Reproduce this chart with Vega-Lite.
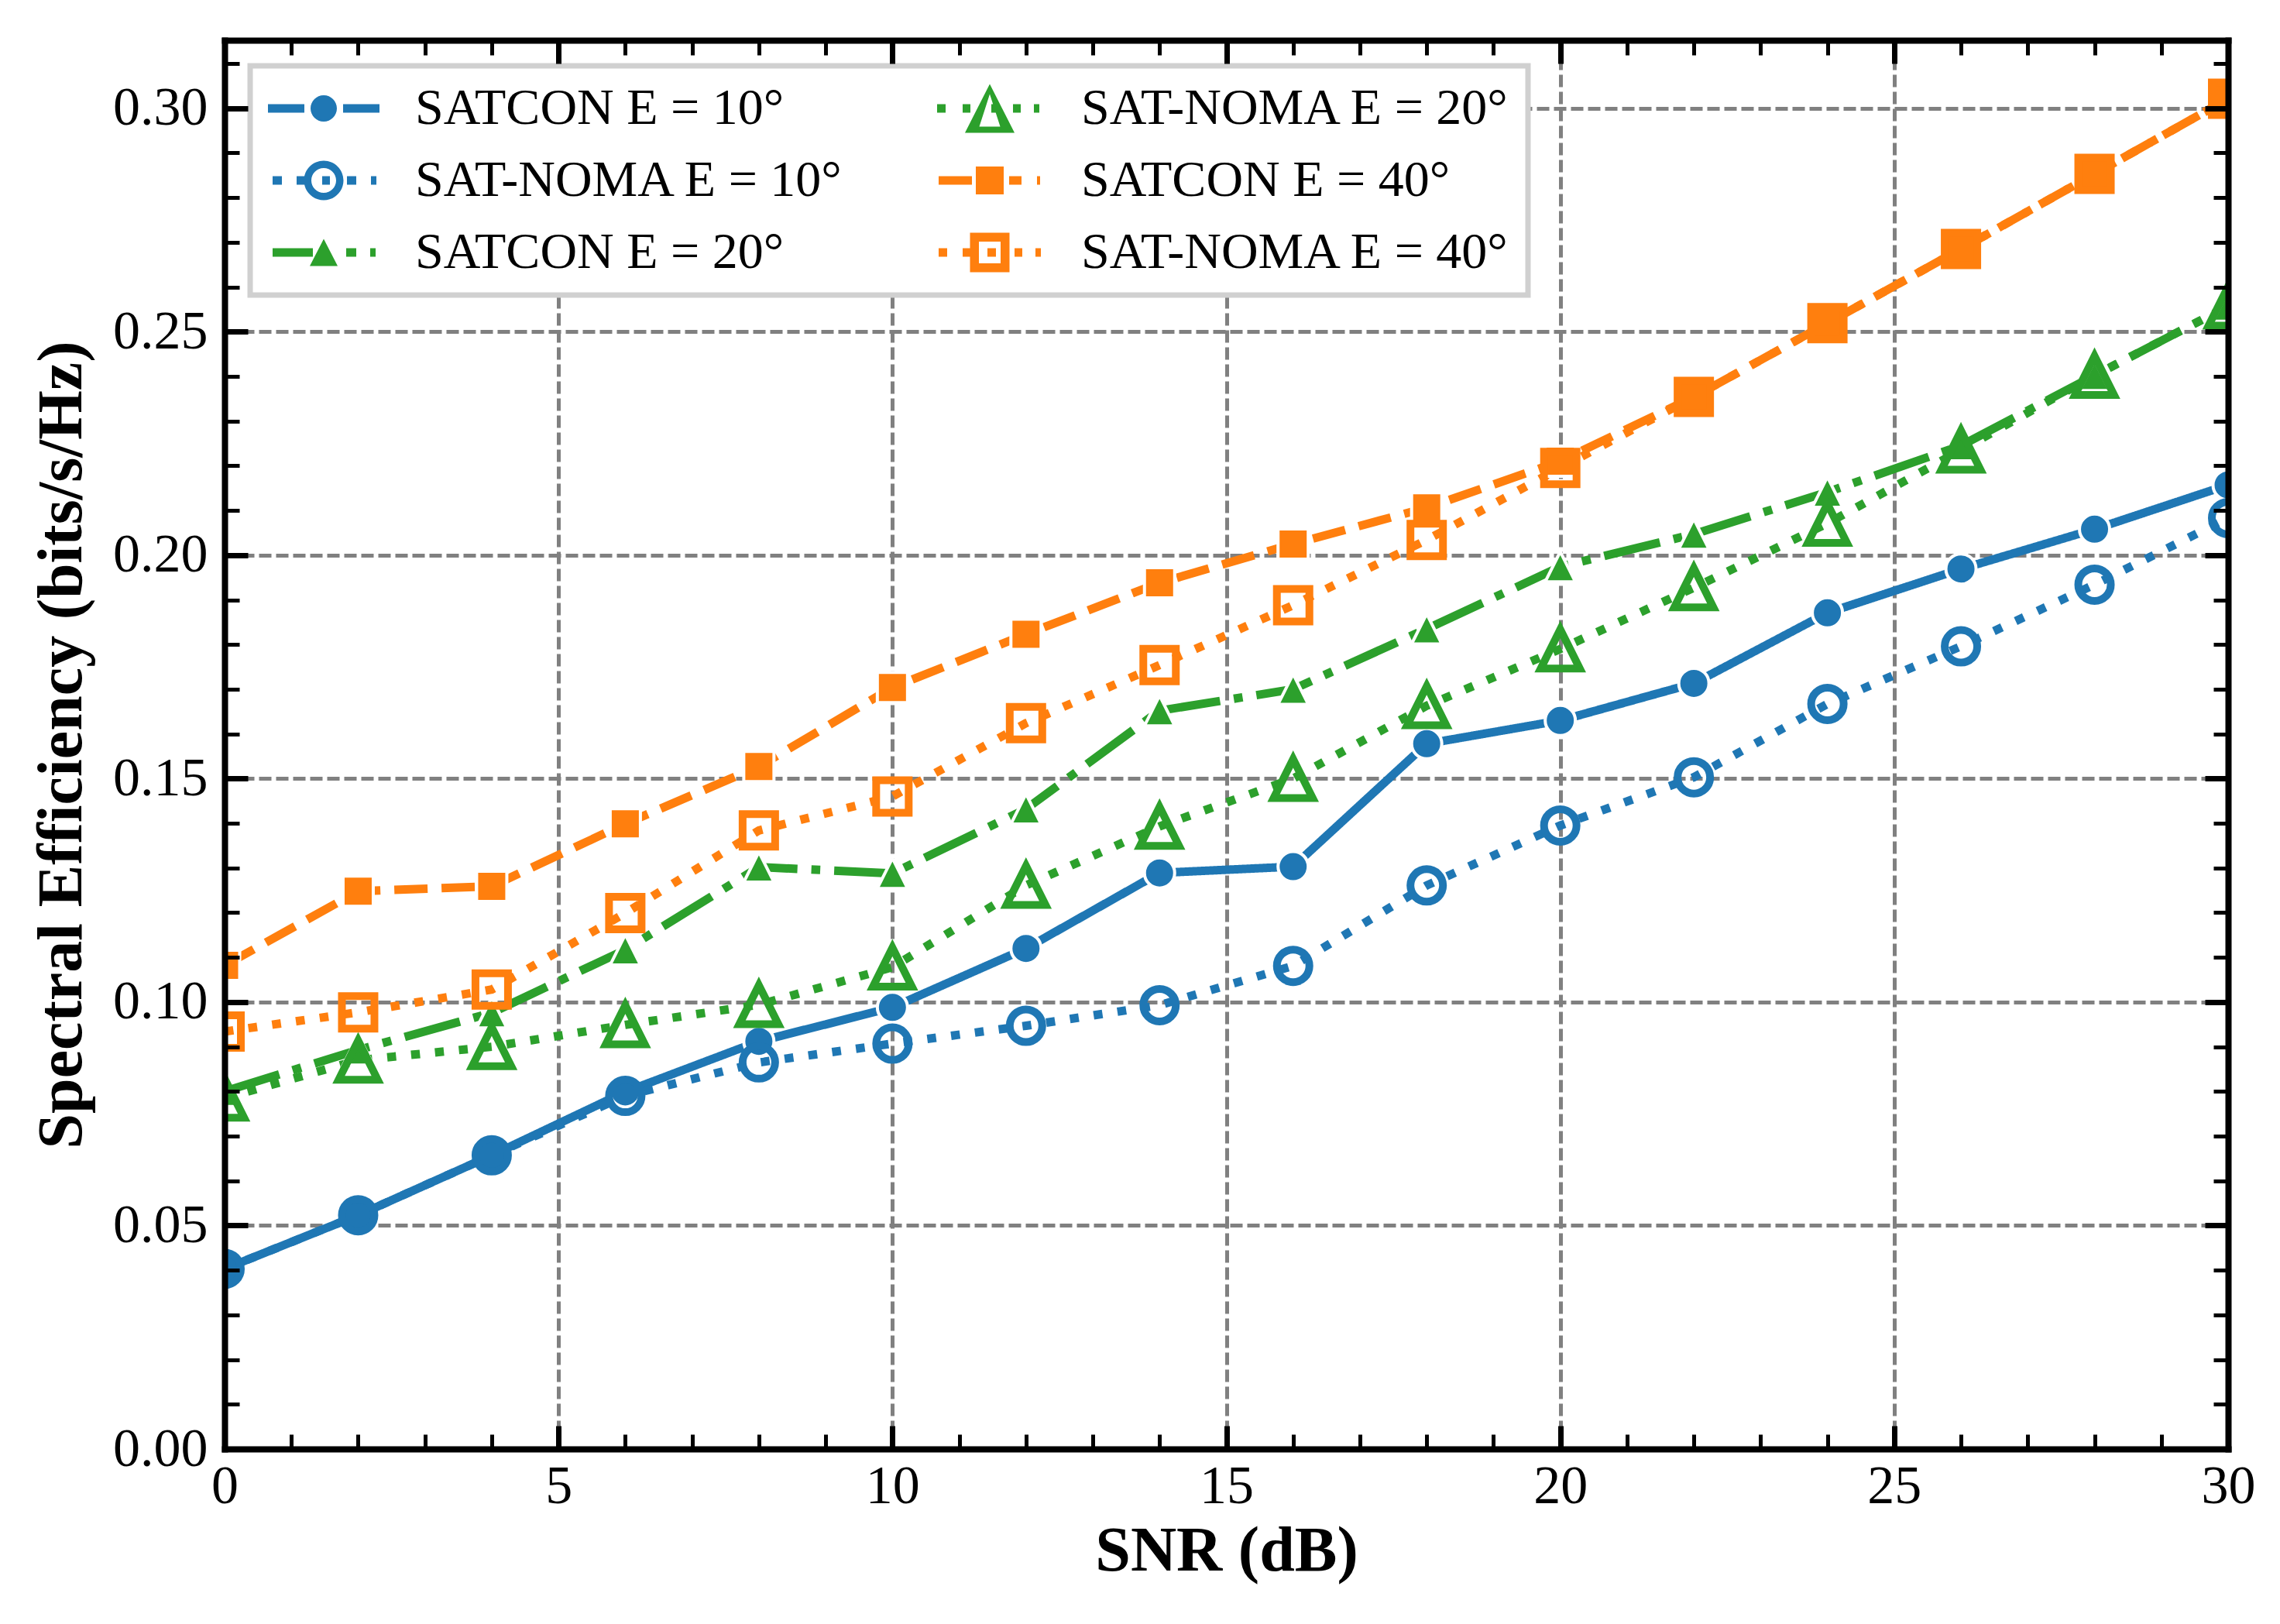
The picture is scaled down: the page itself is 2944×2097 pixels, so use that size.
{
  "$schema": "https://vega.github.io/schema/vega-lite/v6.json",
  "width": 2587,
  "height": 1819,
  "autosize": {"type": "none"},
  "padding": {"left": 290, "top": 52, "right": 67, "bottom": 226},
  "background": "white",
  "config": {"view": {"stroke": null}},
  "data": {"values": [
    {"snr": 0, "se": 0.0403, "series": "SATCON E = 10°"},
    {"snr": 2, "se": 0.0523, "series": "SATCON E = 10°"},
    {"snr": 4, "se": 0.0657, "series": "SATCON E = 10°"},
    {"snr": 6, "se": 0.0799, "series": "SATCON E = 10°"},
    {"snr": 8, "se": 0.0912, "series": "SATCON E = 10°"},
    {"snr": 10, "se": 0.0988, "series": "SATCON E = 10°"},
    {"snr": 12, "se": 0.1120, "series": "SATCON E = 10°"},
    {"snr": 14, "se": 0.1289, "series": "SATCON E = 10°"},
    {"snr": 16, "se": 0.1303, "series": "SATCON E = 10°"},
    {"snr": 18, "se": 0.1578, "series": "SATCON E = 10°"},
    {"snr": 20, "se": 0.1630, "series": "SATCON E = 10°"},
    {"snr": 22, "se": 0.1713, "series": "SATCON E = 10°"},
    {"snr": 24, "se": 0.1871, "series": "SATCON E = 10°"},
    {"snr": 26, "se": 0.1969, "series": "SATCON E = 10°"},
    {"snr": 28, "se": 0.2058, "series": "SATCON E = 10°"},
    {"snr": 30, "se": 0.2157, "series": "SATCON E = 10°"},
    {"snr": 0, "se": 0.0403, "series": "SAT-NOMA E = 10°"},
    {"snr": 2, "se": 0.0523, "series": "SAT-NOMA E = 10°"},
    {"snr": 4, "se": 0.0657, "series": "SAT-NOMA E = 10°"},
    {"snr": 6, "se": 0.0790, "series": "SAT-NOMA E = 10°"},
    {"snr": 8, "se": 0.0865, "series": "SAT-NOMA E = 10°"},
    {"snr": 10, "se": 0.0907, "series": "SAT-NOMA E = 10°"},
    {"snr": 12, "se": 0.0947, "series": "SAT-NOMA E = 10°"},
    {"snr": 14, "se": 0.0993, "series": "SAT-NOMA E = 10°"},
    {"snr": 16, "se": 0.1081, "series": "SAT-NOMA E = 10°"},
    {"snr": 18, "se": 0.1261, "series": "SAT-NOMA E = 10°"},
    {"snr": 20, "se": 0.1395, "series": "SAT-NOMA E = 10°"},
    {"snr": 22, "se": 0.1503, "series": "SAT-NOMA E = 10°"},
    {"snr": 24, "se": 0.1667, "series": "SAT-NOMA E = 10°"},
    {"snr": 26, "se": 0.1796, "series": "SAT-NOMA E = 10°"},
    {"snr": 28, "se": 0.1934, "series": "SAT-NOMA E = 10°"},
    {"snr": 30, "se": 0.2083, "series": "SAT-NOMA E = 10°"},
    {"snr": 0, "se": 0.0800, "series": "SATCON E = 20°"},
    {"snr": 2, "se": 0.0893, "series": "SATCON E = 20°"},
    {"snr": 4, "se": 0.0976, "series": "SATCON E = 20°"},
    {"snr": 6, "se": 0.1117, "series": "SATCON E = 20°"},
    {"snr": 8, "se": 0.1302, "series": "SATCON E = 20°"},
    {"snr": 10, "se": 0.1288, "series": "SATCON E = 20°"},
    {"snr": 12, "se": 0.1432, "series": "SATCON E = 20°"},
    {"snr": 14, "se": 0.1652, "series": "SATCON E = 20°"},
    {"snr": 16, "se": 0.1700, "series": "SATCON E = 20°"},
    {"snr": 18, "se": 0.1835, "series": "SATCON E = 20°"},
    {"snr": 20, "se": 0.1974, "series": "SATCON E = 20°"},
    {"snr": 22, "se": 0.2047, "series": "SATCON E = 20°"},
    {"snr": 24, "se": 0.2141, "series": "SATCON E = 20°"},
    {"snr": 26, "se": 0.2245, "series": "SATCON E = 20°"},
    {"snr": 28, "se": 0.2402, "series": "SATCON E = 20°"},
    {"snr": 30, "se": 0.2557, "series": "SATCON E = 20°"},
    {"snr": 0, "se": 0.0785, "series": "SAT-NOMA E = 20°"},
    {"snr": 2, "se": 0.0870, "series": "SAT-NOMA E = 20°"},
    {"snr": 4, "se": 0.0900, "series": "SAT-NOMA E = 20°"},
    {"snr": 6, "se": 0.0949, "series": "SAT-NOMA E = 20°"},
    {"snr": 8, "se": 0.0994, "series": "SAT-NOMA E = 20°"},
    {"snr": 10, "se": 0.1078, "series": "SAT-NOMA E = 20°"},
    {"snr": 12, "se": 0.1261, "series": "SAT-NOMA E = 20°"},
    {"snr": 14, "se": 0.1393, "series": "SAT-NOMA E = 20°"},
    {"snr": 16, "se": 0.1500, "series": "SAT-NOMA E = 20°"},
    {"snr": 18, "se": 0.1663, "series": "SAT-NOMA E = 20°"},
    {"snr": 20, "se": 0.1790, "series": "SAT-NOMA E = 20°"},
    {"snr": 22, "se": 0.1927, "series": "SAT-NOMA E = 20°"},
    {"snr": 24, "se": 0.2071, "series": "SAT-NOMA E = 20°"},
    {"snr": 26, "se": 0.2235, "series": "SAT-NOMA E = 20°"},
    {"snr": 28, "se": 0.2402, "series": "SAT-NOMA E = 20°"},
    {"snr": 30, "se": 0.2557, "series": "SAT-NOMA E = 20°"},
    {"snr": 0, "se": 0.1082, "series": "SATCON E = 40°"},
    {"snr": 2, "se": 0.1248, "series": "SATCON E = 40°"},
    {"snr": 4, "se": 0.1259, "series": "SATCON E = 40°"},
    {"snr": 6, "se": 0.1399, "series": "SATCON E = 40°"},
    {"snr": 8, "se": 0.1527, "series": "SATCON E = 40°"},
    {"snr": 10, "se": 0.1704, "series": "SATCON E = 40°"},
    {"snr": 12, "se": 0.1823, "series": "SATCON E = 40°"},
    {"snr": 14, "se": 0.1938, "series": "SATCON E = 40°"},
    {"snr": 16, "se": 0.2025, "series": "SATCON E = 40°"},
    {"snr": 18, "se": 0.2106, "series": "SATCON E = 40°"},
    {"snr": 20, "se": 0.2210, "series": "SATCON E = 40°"},
    {"snr": 22, "se": 0.2354, "series": "SATCON E = 40°"},
    {"snr": 24, "se": 0.2519, "series": "SATCON E = 40°"},
    {"snr": 26, "se": 0.2685, "series": "SATCON E = 40°"},
    {"snr": 28, "se": 0.2853, "series": "SATCON E = 40°"},
    {"snr": 30, "se": 0.3021, "series": "SATCON E = 40°"},
    {"snr": 0, "se": 0.0934, "series": "SAT-NOMA E = 40°"},
    {"snr": 2, "se": 0.0977, "series": "SAT-NOMA E = 40°"},
    {"snr": 4, "se": 0.1028, "series": "SAT-NOMA E = 40°"},
    {"snr": 6, "se": 0.1199, "series": "SAT-NOMA E = 40°"},
    {"snr": 8, "se": 0.1384, "series": "SAT-NOMA E = 40°"},
    {"snr": 10, "se": 0.1460, "series": "SAT-NOMA E = 40°"},
    {"snr": 12, "se": 0.1624, "series": "SAT-NOMA E = 40°"},
    {"snr": 14, "se": 0.1754, "series": "SAT-NOMA E = 40°"},
    {"snr": 16, "se": 0.1888, "series": "SAT-NOMA E = 40°"},
    {"snr": 18, "se": 0.2034, "series": "SAT-NOMA E = 40°"},
    {"snr": 20, "se": 0.2195, "series": "SAT-NOMA E = 40°"},
    {"snr": 22, "se": 0.2354, "series": "SAT-NOMA E = 40°"},
    {"snr": 24, "se": 0.2519, "series": "SAT-NOMA E = 40°"},
    {"snr": 26, "se": 0.2685, "series": "SAT-NOMA E = 40°"},
    {"snr": 28, "se": 0.2853, "series": "SAT-NOMA E = 40°"},
    {"snr": 30, "se": 0.3021, "series": "SAT-NOMA E = 40°"}
  ]},
  "layer": [
    {
      "mark": {"type": "line", "strokeWidth": 11, "clip": true, "strokeCap": "butt"},
      "encoding": {
        "x": {"field": "snr", "type": "quantitative", "scale": {"domain": [0, 30], "nice": false, "zero": false},
          "axis": {"orient": "bottom", "values": [0, 5, 10, 15, 20, 25, 30], "grid": true, "gridColor": "#808080", "gridDash": [16, 6], "gridWidth": 5, "gridOpacity": 1, "domain": false, "ticks": false, "labels": false, "title": null, "zindex": 0}},
        "y": {"field": "se", "type": "quantitative", "scale": {"domain": [0, 0.3152], "nice": false, "zero": false},
          "axis": {"orient": "left", "values": [0, 0.05, 0.1, 0.15, 0.2, 0.25, 0.3], "grid": true, "gridColor": "#808080", "gridDash": [16, 6], "gridWidth": 5, "gridOpacity": 1, "domain": false, "ticks": false, "labels": false, "title": null, "zindex": 0}},
        "color": {"field": "series", "type": "nominal", "legend": null,
          "scale": {"domain": ["SATCON E = 10°", "SAT-NOMA E = 10°", "SATCON E = 20°", "SAT-NOMA E = 20°", "SATCON E = 40°", "SAT-NOMA E = 40°"],
                    "range": ["#1f77b4", "#1f77b4", "#2ca02c", "#2ca02c", "#ff7f0e", "#ff7f0e"]}},
        "strokeDash": {"field": "series", "type": "nominal", "legend": null,
          "scale": {"domain": ["SATCON E = 10°", "SAT-NOMA E = 10°", "SATCON E = 20°", "SAT-NOMA E = 20°", "SATCON E = 40°", "SAT-NOMA E = 40°"],
                    "range": [[1, 0], [11.5, 19.5], [74, 18, 11.5, 18], [11.5, 19.5], [43, 18], [11.5, 19.5]]}}
      }
    },
    {
      "transform": [{"filter": {"field": "series", "oneOf": ["SATCON E = 10°", "SATCON E = 20°", "SATCON E = 40°"]}}],
      "mark": {"type": "point", "filled": true, "size": 1521, "stroke": "white", "strokeWidth": 4, "opacity": 1, "clip": true},
      "encoding": {
        "x": {"field": "snr", "type": "quantitative", "scale": {"domain": [0, 30], "nice": false, "zero": false},
          "axis": {"orient": "bottom", "values": [0, 5, 10, 15, 20, 25, 30], "grid": false, "domain": true, "domainColor": "black", "domainWidth": 8, "domainCap": "square",
                   "ticks": true, "tickColor": "black", "tickSize": -30, "tickWidth": 7, "labels": true, "labelFont": "Liberation Serif", "labelFontSize": 70, "labelColor": "black",
                   "labelPadding": 44, "labelFlush": false, "labelOverlap": false, "title": "SNR (dB)", "titleFont": "Liberation Serif", "titleFontSize": 82, "titleFontWeight": "bold", "titleColor": "black", "titlePadding": 8, "zindex": 1}},
        "y": {"field": "se", "type": "quantitative", "scale": {"domain": [0, 0.3152], "nice": false, "zero": false},
          "axis": {"orient": "left", "values": [0, 0.05, 0.1, 0.15, 0.2, 0.25, 0.3], "format": ".2f", "grid": false, "domain": true, "domainColor": "black", "domainWidth": 8, "domainCap": "square",
                   "ticks": true, "tickColor": "black", "tickSize": -30, "tickWidth": 7, "labels": true, "labelFont": "Liberation Serif", "labelFontSize": 70, "labelColor": "black",
                   "labelPadding": 52, "labelFlush": false, "labelOverlap": false, "title": "Spectral Efficiency (bits/s/Hz)", "titleFont": "Liberation Serif", "titleFontSize": 82, "titleFontWeight": "bold", "titleColor": "black", "titlePadding": 24, "zindex": 1}},
        "fill": {"field": "series", "type": "nominal", "legend": null,
          "scale": {"domain": ["SATCON E = 10°", "SATCON E = 20°", "SATCON E = 40°"], "range": ["#1f77b4", "#2ca02c", "#ff7f0e"]}},
        "shape": {"field": "series", "type": "nominal", "legend": null,
          "scale": {"domain": ["SATCON E = 10°", "SATCON E = 20°", "SATCON E = 40°"], "range": ["circle", "M0,-1L1,1L-1,1Z", "square"]}}
      }
    },
    {
      "transform": [{"filter": {"field": "series", "oneOf": ["SAT-NOMA E = 10°", "SAT-NOMA E = 20°", "SAT-NOMA E = 40°"]}}],
      "mark": {"type": "point", "filled": false, "size": 1764, "strokeWidth": 10, "opacity": 1, "clip": true},
      "encoding": {
        "x": {"field": "snr", "type": "quantitative", "scale": {"domain": [0, 30], "nice": false, "zero": false},
          "axis": {"orient": "bottom", "values": [1, 2, 3, 4, 6, 7, 8, 9, 11, 12, 13, 14, 16, 17, 18, 19, 21, 22, 23, 24, 26, 27, 28, 29], "grid": false, "domain": false,
                   "ticks": true, "tickColor": "black", "tickSize": -19, "tickWidth": 5, "labels": false, "title": null, "zindex": 1}},
        "y": {"field": "se", "type": "quantitative", "scale": {"domain": [0, 0.3152], "nice": false, "zero": false},
          "axis": {"orient": "left", "values": [0.01, 0.02, 0.03, 0.04, 0.06, 0.07, 0.08, 0.09, 0.11, 0.12, 0.13, 0.14, 0.16, 0.17, 0.18, 0.19, 0.21, 0.22, 0.23, 0.24, 0.26, 0.27, 0.28, 0.29, 0.31], "grid": false, "domain": false,
                   "ticks": true, "tickColor": "black", "tickSize": -19, "tickWidth": 5, "labels": false, "title": null, "zindex": 1}},
        "stroke": {"field": "series", "type": "nominal", "legend": null,
          "scale": {"domain": ["SAT-NOMA E = 10°", "SAT-NOMA E = 20°", "SAT-NOMA E = 40°"], "range": ["#1f77b4", "#2ca02c", "#ff7f0e"]}},
        "shape": {"field": "series", "type": "nominal", "legend": null,
          "scale": {"domain": ["SAT-NOMA E = 10°", "SAT-NOMA E = 20°", "SAT-NOMA E = 40°"], "range": ["circle", "M0,-1.2L1.2,1.2L-1.2,1.2Z", "square"]}}
      }
    },
    {
      "mark": {"type": "point", "filled": true, "opacity": 0, "size": 1296, "strokeWidth": 0},
      "encoding": {
        "x": {"field": "snr", "type": "quantitative", "scale": {"domain": [0, 30], "nice": false, "zero": false},
          "axis": {"orient": "top", "values": [0, 5, 10, 15, 20, 25, 30], "grid": false, "domain": true, "domainColor": "black", "domainWidth": 8, "domainCap": "square",
                   "ticks": true, "tickColor": "black", "tickSize": -30, "tickWidth": 7, "labels": false, "title": null, "zindex": 1}},
        "y": {"field": "se", "type": "quantitative", "scale": {"domain": [0, 0.3152], "nice": false, "zero": false},
          "axis": {"orient": "right", "values": [0, 0.05, 0.1, 0.15, 0.2, 0.25, 0.3], "grid": false, "domain": true, "domainColor": "black", "domainWidth": 8, "domainCap": "square",
                   "ticks": true, "tickColor": "black", "tickSize": -30, "tickWidth": 7, "labels": false, "title": null, "zindex": 1}},
        "color": {"field": "series", "type": "nominal",
          "scale": {"domain": ["SATCON E = 10°", "SAT-NOMA E = 10°", "SATCON E = 20°", "SAT-NOMA E = 20°", "SATCON E = 40°", "SAT-NOMA E = 40°"],
                    "range": ["#1f77b4", "#1f77b4", "#2ca02c", "#2ca02c", "#ff7f0e", "#ff7f0e"]},
          "legend": {"title": null, "orient": "top-left", "offset": 33, "columns": 2, "columnPadding": 114, "rowPadding": 27, "padding": 22,
                     "symbolSize": 1296, "symbolStrokeWidth": 0, "symbolOpacity": 1, "symbolOffset": 40, "labelOffset": 85,
                     "labelFont": "Liberation Serif", "labelFontSize": 66, "labelColor": "black", "labelLimit": 0,
                     "strokeColor": "#d0d0d0", "fillColor": "white", "cornerRadius": 0,
                     "encode": {"legend": {"update": {"strokeWidth": {"value": 7}}}}}},
        "shape": {"field": "series", "type": "nominal",
          "scale": {"domain": ["SATCON E = 10°", "SAT-NOMA E = 10°", "SATCON E = 20°", "SAT-NOMA E = 20°", "SATCON E = 40°", "SAT-NOMA E = 40°"],
                    "range": [
                      "M-4,-0.306H-1.389V0.306H-4Z M1.389,-0.306H4V0.306H1.389Z M0.944,0A0.944,0.944 0 1,1 -0.944,0A0.944,0.944 0 1,1 0.944,0Z",
                      "M-3.667,-0.306H-3V0.306H-3.667Z M-1.944,-0.306H-1.333V0.306H-1.944Z M-0.111,-0.306H0.444V0.306H-0.111Z M1.667,-0.306H2.333V0.306H1.667Z M3.389,-0.306H3.778V0.306H3.389Z M1.417,0A1.417,1.417 0 1,1 -1.417,0A1.417,1.417 0 1,1 1.417,0Z M0.889,0A0.889,0.889 0 1,0 -0.889,0A0.889,0.889 0 1,0 0.889,0Z",
                      "M-3.667,-0.306H-0.778V0.306H-3.667Z M1.611,-0.306H2.333V0.306H1.611Z M3.333,-0.306H3.722V0.306H3.333Z M0,-0.972L1,0.972L-1,0.972Z",
                      "M-3.778,-0.306H-3.167V0.306H-3.778Z M-1.944,-0.306H-1.389V0.306H-1.944Z M0.111,-0.306H0.722V0.306H0.111Z M1.667,-0.306H2.222V0.306H1.667Z M3.167,-0.306H3.556V0.306H3.167Z M0,-1.75L1.778,1.75L-1.778,1.75Z M0,-1.028L-0.75,1.306L0.75,1.306Z",
                      "M-3.667,-0.306H-1.278V0.306H-3.667Z M1.389,-0.306H2.278V0.306H1.389Z M3.389,-0.306H3.611V0.306H3.389Z M-1,-1H1V1H-1Z",
                      "M-3.667,-0.306H-3.056V0.306H-3.667Z M-1.944,-0.306H-1.222V0.306H-1.944Z M-0.167,-0.306H0.444V0.306H-0.167Z M1.778,-0.306H2.333V0.306H1.778Z M3.278,-0.306H3.667V0.306H3.278Z M-1.417,-1.417H1.417V1.417H-1.417Z M-0.778,-0.778V0.778H0.778V-0.778Z"
                    ]},
          "legend": {"title": null, "orient": "top-left", "offset": 33, "columns": 2, "columnPadding": 114, "rowPadding": 27, "padding": 22,
                     "symbolSize": 1296, "symbolStrokeWidth": 0, "symbolOpacity": 1, "symbolOffset": 40, "labelOffset": 85,
                     "labelFont": "Liberation Serif", "labelFontSize": 66, "labelColor": "black", "labelLimit": 0,
                     "strokeColor": "#d0d0d0", "fillColor": "white", "cornerRadius": 0,
                     "encode": {"legend": {"update": {"strokeWidth": {"value": 7}}}}}}
      }
    },
    {
      "mark": {"type": "point", "opacity": 0},
      "encoding": {
        "x": {"field": "snr", "type": "quantitative", "scale": {"domain": [0, 30], "nice": false, "zero": false},
          "axis": {"orient": "top", "values": [1, 2, 3, 4, 6, 7, 8, 9, 11, 12, 13, 14, 16, 17, 18, 19, 21, 22, 23, 24, 26, 27, 28, 29], "grid": false, "domain": false,
                   "ticks": true, "tickColor": "black", "tickSize": -19, "tickWidth": 5, "labels": false, "title": null, "zindex": 1}},
        "y": {"field": "se", "type": "quantitative", "scale": {"domain": [0, 0.3152], "nice": false, "zero": false},
          "axis": {"orient": "right", "values": [0.01, 0.02, 0.03, 0.04, 0.06, 0.07, 0.08, 0.09, 0.11, 0.12, 0.13, 0.14, 0.16, 0.17, 0.18, 0.19, 0.21, 0.22, 0.23, 0.24, 0.26, 0.27, 0.28, 0.29, 0.31], "grid": false, "domain": false,
                   "ticks": true, "tickColor": "black", "tickSize": -19, "tickWidth": 5, "labels": false, "title": null, "zindex": 1}}
      }
    }
  ],
  "resolve": {
    "axis": {"x": "independent", "y": "independent"},
    "scale": {"color": "independent", "shape": "independent", "fill": "independent", "stroke": "independent", "strokeDash": "independent"},
    "legend": {"color": "independent", "shape": "independent", "fill": "independent", "stroke": "independent", "strokeDash": "independent"}
  }
}
